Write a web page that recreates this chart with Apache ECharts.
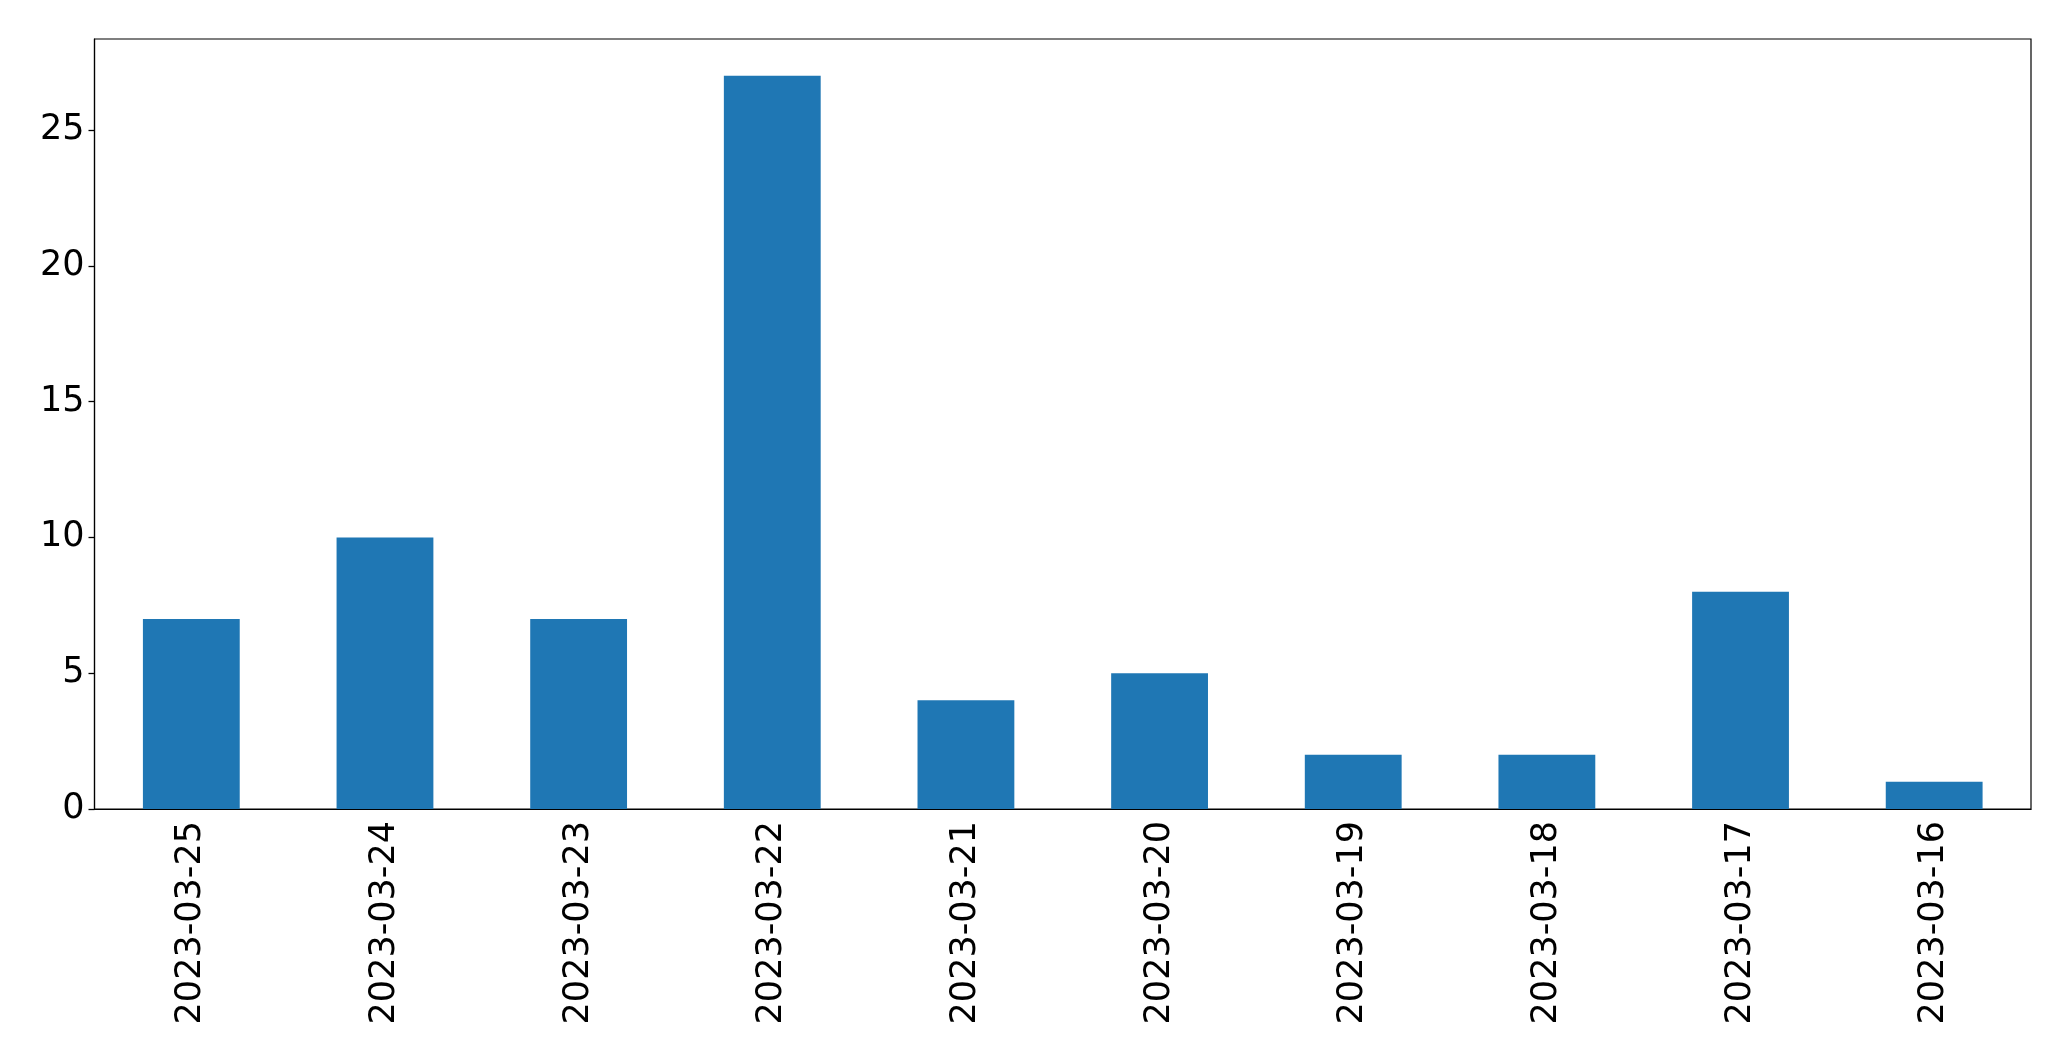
<!DOCTYPE html>
<html><head><meta charset="utf-8">
<script src="https://cdn.jsdelivr.net/npm/echarts@6/dist/echarts.min.js"></script>
<style>html,body{margin:0;padding:0;background:#fff}#c{width:2071px;height:1061px}</style>
</head><body><div id="c"></div>
<script>
const categories = ["2023-03-25","2023-03-24","2023-03-23","2023-03-22","2023-03-21","2023-03-20","2023-03-19","2023-03-18","2023-03-17","2023-03-16"];
const values = [7, 10, 7, 27, 4, 5, 2, 2, 8, 1];
const yTicks = [0, 5, 10, 15, 20, 25];

const chart = echarts.init(document.getElementById('c'), null, {renderer: 'canvas'});
const font = "DejaVu Sans";
chart.setOption({
  animation: false,
  backgroundColor: '#fff',
  grid: {left: 94.5, right: 40, top: 39, bottom: 252, show: true, borderColor: '#000', borderWidth: 1.2, backgroundColor: 'transparent'},
  xAxis: {
    type: 'category', data: categories, boundaryGap: true,
    axisLine: {lineStyle: {color: '#000', width: 1.2}},
    axisTick: {alignWithLabel: true, length: 6, lineStyle: {color: '#000', width: 1.3}},
    axisLabel: {rotate: 90, color: '#000', fontFamily: font, fontSize: 35, margin: 12, interval: 0},
    splitLine: {show: false}
  },
  yAxis: {
    type: 'value', min: 0, max: 28.35, interval: 5,
    axisLine: {show: true, lineStyle: {color: '#000', width: 1.2}},
    axisTick: {show: true, length: 6, lineStyle: {color: '#000', width: 1.3}},
    axisLabel: {color: '#000', fontFamily: font, fontSize: 35, margin: 10, showMaxLabel: false,
      formatter: v => yTicks.includes(v) ? String(v) : ''},
    splitLine: {show: false}
  },
  series: [{type: 'bar', data: values, barWidth: '50%', itemStyle: {color: '#1f77b4'}}]
});
</script></body></html>
